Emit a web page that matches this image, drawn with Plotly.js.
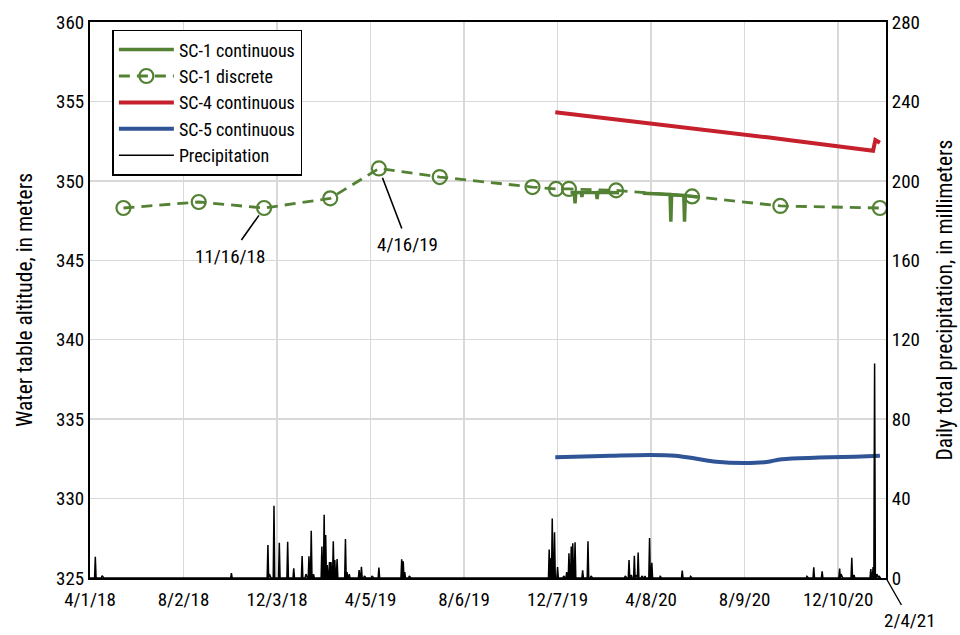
<!DOCTYPE html>
<html>
<head>
<meta charset="utf-8">
<script src="https://cdn.plot.ly/plotly-3.0.1.min.js"></script>
<style>
  html, body { margin: 0; padding: 0; background: #fff; }
  #chart { width: 960px; height: 635px; }
</style>
</head>
<body>
<div id="chart"></div>
<script>
// ---- Water-table altitude, meters ----
// SC-1 discrete measurements
const sc1DiscreteDates = ['2018-05-15','2018-08-22','2018-11-16','2019-02-11','2019-04-16','2019-07-05',
  '2019-11-04','2019-12-05','2019-12-22','2020-02-22','2020-06-01','2020-09-25','2021-02-03'];
const sc1DiscreteVals = [348.29, 348.67, 348.29, 348.90, 350.78, 350.24,
  349.61, 349.49, 349.49, 349.40, 349.02, 348.42, 348.29];

// SC-1 continuous record (null marks the data gap)
const sc1ContDates = ['2019-12-24','2019-12-29','2019-12-30','2019-12-31','2020-01-07','2020-01-08','2020-01-09',
  '2020-01-27','2020-01-28','2020-01-29','2020-02-10','2020-02-26','2020-03-12',
  '2020-03-28','2020-04-15','2020-05-03','2020-05-04','2020-05-05','2020-05-21','2020-05-22','2020-05-23','2020-06-08'];
const sc1ContVals = [349.27, 349.27, 348.59, 349.27, 349.27, 348.98, 349.27,
  349.26, 348.86, 349.26, 349.26, 349.25, null,
  349.22, 349.18, 349.14, 347.43, 349.13, 349.08, 347.43, 349.07, 348.98];

// SC-4 continuous record
const sc4Dates = ['2019-12-04','2020-01-04','2020-02-04','2020-03-04','2020-04-08','2020-05-08','2020-06-08',
  '2020-07-08','2020-08-08','2020-09-08','2020-10-08','2020-11-08','2020-12-09','2021-01-08',
  '2021-01-25','2021-01-28','2021-02-03'];
const sc4Vals = [354.32, 354.15, 353.98, 353.82, 353.62, 353.45, 353.28,
  353.11, 352.94, 352.74, 352.55, 352.36, 352.15, 352.00,
  351.90, 352.57, 352.40];

// SC-5 continuous record
const sc5Dates = ['2019-12-04','2020-01-10','2020-02-15','2020-04-07','2020-05-10','2020-06-05','2020-07-03',
  '2020-08-08','2020-09-07','2020-09-27','2020-11-15','2021-01-01','2021-02-03'];
const sc5Vals = [332.60, 332.65, 332.70, 332.75, 332.70, 332.52, 332.32,
  332.24, 332.30, 332.48, 332.58, 332.64, 332.70];

// ---- Daily total precipitation, millimeters (days not listed had none) ----
const rainDates = ['2018-04-08','2018-04-17','2018-10-04','2018-11-21','2018-11-23','2018-11-29','2018-12-06',
  '2018-12-17','2018-12-25','2019-01-05','2019-01-10','2019-01-14','2019-01-17','2019-01-20','2019-01-31',
  '2019-02-03','2019-02-05','2019-02-07','2019-02-10','2019-02-12','2019-02-15','2019-02-17','2019-02-20',
  '2019-03-03','2019-03-05','2019-03-08','2019-03-21','2019-03-24','2019-03-28','2019-04-07','2019-04-16',
  '2019-05-16','2019-05-18','2019-05-20','2019-05-26',
  '2019-11-26','2019-11-28','2019-11-30','2019-12-03','2019-12-07','2019-12-15','2019-12-19','2019-12-22',
  '2019-12-25','2019-12-27','2019-12-30','2020-01-09','2020-01-16','2020-01-20','2020-03-05','2020-03-10',
  '2020-03-13','2020-03-17','2020-03-19','2020-03-22','2020-03-27','2020-03-31','2020-04-06','2020-04-09',
  '2020-04-20','2020-05-19','2020-05-30','2020-10-30','2020-11-08','2020-11-19','2020-12-12','2020-12-14',
  '2020-12-28','2020-12-31','2021-01-22','2021-01-25','2021-01-27','2021-01-30','2021-02-02'];
const rainVals = [10.7, 1.2, 2.4, 16.6, 2.0, 36.4, 17.8,
  18.3, 4.9, 11.1, 2.0, 11.0, 23.8, 2.0, 15.8,
  31.9, 21.6, 6.5, 8.1, 8.0, 18.5, 9.0, 9.6,
  19.6, 3.0, 2.0, 4.0, 5.7, 1.0, 1.0, 5.2,
  9.4, 8.4, 3.0, 1.0,
  14.4, 10.0, 30.0, 23.0, 5.5, 1.0, 3.0, 12.4,
  15.8, 17.5, 18.0, 3.9, 18.5, 1.0, 1.0, 9.0,
  1.5, 11.2, 1.5, 12.8, 1.0, 1.0, 20.1, 7.7,
  0.8, 3.7, 0.8, 0.8, 5.4, 3.3, 4.7, 2.0,
  10.2, 1.5, 4.5, 5.5, 108.0, 2.0, 0.8];

// ---- Axis ticks ----
const xTickVals = ['2018-04-01','2018-08-02','2018-12-03','2019-04-05','2019-08-06','2019-12-07',
  '2020-04-08','2020-08-09','2020-12-10'];
const xTickText = ['4/1/18','8/2/18','12/3/18','4/5/19','8/6/19','12/7/19','4/8/20','8/9/20','12/10/20'];
const recordStart = '2018-04-01';
const recordEnd = '2021-02-04';

// Expand the rainy-day list into a daily series over the record period.
const rainLookup = {};
rainDates.forEach((d, i) => { rainLookup[d] = rainVals[i]; });
const precipDates = [];
const precipVals = [];
for (let t = Date.parse(recordStart + 'T00:00:00Z'); t <= Date.parse(recordEnd + 'T00:00:00Z'); t += 86400000) {
  const iso = new Date(t).toISOString().slice(0, 10);
  precipDates.push(iso);
  precipVals.push(rainLookup[iso] || 0);
}

const FONT = "'Liberation Sans Narrow', 'Arial Narrow', 'Roboto Condensed', sans-serif";
const GREEN = '#548235';
const RED = '#c5202b';
const BLUE = '#2f5597';
const GRID = '#d9d9d9';

const traces = [
  {
    name: 'SC-1 continuous', x: sc1ContDates, y: sc1ContVals, type: 'scatter', mode: 'lines',
    connectgaps: false, line: { color: GREEN, width: 3.5 }
  },
  {
    name: 'SC-1 discrete', x: sc1DiscreteDates, y: sc1DiscreteVals, type: 'scatter', mode: 'lines+markers',
    line: { color: GREEN, width: 2.8, dash: '11px,7px' },
    marker: { symbol: 'circle-open', size: 14, color: GREEN, line: { width: 2.2, color: GREEN } }
  },
  {
    name: 'SC-4 continuous', x: sc4Dates, y: sc4Vals, type: 'scatter', mode: 'lines',
    line: { color: RED, width: 4 }
  },
  {
    name: 'SC-5 continuous', x: sc5Dates, y: sc5Vals, type: 'scatter', mode: 'lines',
    line: { color: BLUE, width: 4, shape: 'spline' }
  },
  {
    name: 'Precipitation', x: precipDates, y: precipVals, type: 'scatter', mode: 'lines',
    yaxis: 'y2', line: { color: '#000', width: 1.5 }
  }
];

const layout = {
  width: 960, height: 635,
  margin: { l: 90, r: 74, t: 22, b: 57 },
  paper_bgcolor: '#fff', plot_bgcolor: '#fff',
  font: { family: FONT, size: 19, color: '#000' },
  showlegend: true,
  legend: {
    x: 0.028, y: 0.986, xanchor: 'left', yanchor: 'top',
    bgcolor: '#fff', bordercolor: '#000', borderwidth: 1.6,
    font: { family: FONT, size: 18, color: '#000' },
    traceorder: 'normal', itemwidth: 55
  },
  xaxis: {
    type: 'date', range: ['2018-04-01', '2021-02-11'],
    tickmode: 'array', tickvals: xTickVals, ticktext: xTickText,
    showgrid: true, gridcolor: GRID, gridwidth: 1.5,
    showline: true, linecolor: '#000', linewidth: 2, mirror: true,
    ticks: '', zeroline: false, tickfont: { family: FONT, size: 19 },
    ticklabelstandoff: 3
  },
  yaxis: {
    range: [325, 360], dtick: 5, tick0: 325,
    showgrid: true, gridcolor: GRID, gridwidth: 1.5,
    showline: true, linecolor: '#000', linewidth: 2,
    ticks: '', zeroline: false, tickfont: { family: FONT, size: 19 },
    title: { text: 'Water table altitude, in meters', font: { family: FONT, size: 21.5 }, standoff: 18 }
  },
  yaxis2: {
    overlaying: 'y', side: 'right', range: [0, 280], dtick: 40, tick0: 0,
    showgrid: false, showline: true, linecolor: '#000', linewidth: 2,
    ticks: '', zeroline: false, tickfont: { family: FONT, size: 19 },
    title: { text: 'Daily total precipitation, in millimeters', font: { family: FONT, size: 21.5 }, standoff: 18 }
  },
  annotations: [
    {
      x: '2018-11-16', y: 348.29, xref: 'x', yref: 'y', text: '11/16/18',
      showarrow: true, arrowhead: 0, arrowwidth: 1.6, arrowcolor: '#000',
      ax: -34, ay: 48, standoff: 9, borderpad: 4,
      font: { family: FONT, size: 19, color: '#000' }
    },
    {
      x: '2019-04-16', y: 350.78, xref: 'x', yref: 'y', text: '4/16/19',
      showarrow: true, arrowhead: 0, arrowwidth: 1.6, arrowcolor: '#000',
      ax: 29, ay: 76, standoff: 10, borderpad: 4,
      font: { family: FONT, size: 19, color: '#000' }
    },
    {
      x: 1, y: 0, xref: 'paper', yref: 'paper', text: '2/4/21',
      showarrow: true, arrowhead: 0, arrowwidth: 1.4, arrowcolor: '#000',
      ax: 24, ay: 42, standoff: 2, borderpad: 3,
      font: { family: FONT, size: 19, color: '#000' }
    }
  ]
};

Plotly.newPlot('chart', traces, layout, { staticPlot: true, displayModeBar: false });
</script>
</body>
</html>
